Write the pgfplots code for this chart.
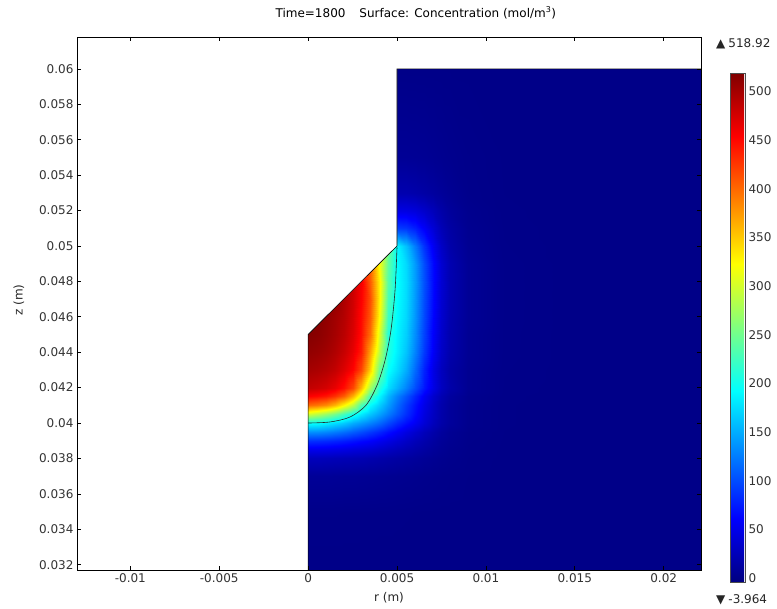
\documentclass[border=0pt]{standalone}
\usepackage{pgfplots}
\pgfplotsset{compat=1.18}
\usepackage{pgfplotstable}
\usepackage{fontspec}
\setmainfont{DejaVu Sans}
\newcommand{\lblfont}{\fontsize{12}{14}\selectfont}
% concentration field: x = r (m), y = z (m), c = concentration (mol/m^3)
% 21 values of r per row of constant z
\pgfplotstableread{
x y c
0 0.0317 0
0.0005 0.0317 0
0.001 0.0317 0
0.0015 0.0317 0
0.002 0.0317 0
0.0025 0.0317 0
0.003 0.0317 0
0.0035 0.0317 0
0.004 0.0317 0
0.0045 0.0317 0
0.005 0.0317 0
0.0055 0.0317 0
0.006 0.0317 0
0.0065 0.0317 0
0.007 0.0317 0
0.0075 0.0317 0
0.008 0.0317 0
0.009 0.0317 0
0.011 0.0317 0
0.015 0.0317 0
0.0221 0.0317 0
0 0.035 1
0.0005 0.035 1
0.001 0.035 1
0.0015 0.035 1
0.002 0.035 0.9
0.0025 0.035 0.9
0.003 0.035 0.8
0.0035 0.035 0.8
0.004 0.035 0.7
0.0045 0.035 0.7
0.005 0.035 0.6
0.0055 0.035 0.5
0.006 0.035 0.4
0.0065 0.035 0.3
0.007 0.035 0.3
0.0075 0.035 0.2
0.008 0.035 0.2
0.009 0.035 0.1
0.011 0.035 0
0.015 0.035 0
0.0221 0.035 0
0 0.037 8
0.0005 0.037 8
0.001 0.037 8
0.0015 0.037 7.5
0.002 0.037 7
0.0025 0.037 7
0.003 0.037 6.5
0.0035 0.037 6
0.004 0.037 5.5
0.0045 0.037 5
0.005 0.037 4.5
0.0055 0.037 4
0.006 0.037 3.3
0.0065 0.037 2.6
0.007 0.037 2
0.0075 0.037 1.5
0.008 0.037 1
0.009 0.037 0.4
0.011 0.037 0.1
0.015 0.037 0
0.0221 0.037 0
0 0.038 27
0.0005 0.038 27
0.001 0.038 26
0.0015 0.038 25
0.002 0.038 24
0.0025 0.038 23
0.003 0.038 22
0.0035 0.038 20
0.004 0.038 18
0.0045 0.038 16
0.005 0.038 14
0.0055 0.038 12
0.006 0.038 10
0.0065 0.038 7.5
0.007 0.038 5.5
0.0075 0.038 3.8
0.008 0.038 2.5
0.009 0.038 0.9
0.011 0.038 0.2
0.015 0.038 0
0.0221 0.038 0
0 0.0385 50
0.0005 0.0385 50
0.001 0.0385 49
0.0015 0.0385 47
0.002 0.0385 45
0.0025 0.0385 42
0.003 0.0385 40
0.0035 0.0385 37
0.004 0.0385 33
0.0045 0.0385 29
0.005 0.0385 25
0.0055 0.0385 21
0.006 0.0385 17
0.0065 0.0385 13
0.007 0.0385 9
0.0075 0.0385 6
0.008 0.0385 3.5
0.009 0.0385 1.2
0.011 0.0385 0.2
0.015 0.0385 0
0.0221 0.0385 0
0 0.039 85
0.0005 0.039 84
0.001 0.039 82
0.0015 0.039 79
0.002 0.039 75
0.0025 0.039 70
0.003 0.039 65
0.0035 0.039 60
0.004 0.039 53
0.0045 0.039 46
0.005 0.039 39
0.0055 0.039 32
0.006 0.039 25
0.0065 0.039 19
0.007 0.039 13
0.0075 0.039 8
0.008 0.039 5
0.009 0.039 1.6
0.011 0.039 0.3
0.015 0.039 0
0.0221 0.039 0
0 0.0395 135
0.0005 0.0395 134
0.001 0.0395 130
0.0015 0.0395 124
0.002 0.0395 117
0.0025 0.0395 108
0.003 0.0395 100
0.0035 0.0395 90
0.004 0.0395 80
0.0045 0.0395 68
0.005 0.0395 57
0.0055 0.0395 46
0.006 0.0395 36
0.0065 0.0395 26
0.007 0.0395 18
0.0075 0.0395 11
0.008 0.0395 6
0.009 0.0395 2
0.011 0.0395 0.4
0.015 0.0395 0
0.0221 0.0395 0
0 0.04 195
0.0005 0.04 193
0.001 0.04 185
0.0015 0.04 175
0.002 0.04 165
0.0025 0.04 150
0.003 0.04 140
0.0035 0.04 128
0.004 0.04 115
0.0045 0.04 98
0.005 0.04 82
0.0055 0.04 68
0.006 0.04 55
0.0065 0.04 40
0.007 0.04 27
0.0075 0.04 17
0.008 0.04 10
0.009 0.04 3
0.011 0.04 0.5
0.015 0.04 0
0.0221 0.04 0
0 0.0405 300
0.0005 0.0405 288
0.001 0.0405 272
0.0015 0.0405 252
0.002 0.0405 226
0.0025 0.0405 202
0.003 0.0405 183
0.0035 0.0405 163
0.004 0.0405 145
0.0045 0.0405 125
0.005 0.0405 105
0.0055 0.0405 85
0.006 0.0405 65
0.0065 0.0405 45
0.007 0.0405 30
0.0075 0.0405 18
0.008 0.0405 10
0.009 0.0405 3
0.011 0.0405 0.5
0.015 0.0405 0
0.0221 0.0405 0
0 0.041 400
0.0005 0.041 393
0.001 0.041 382
0.0015 0.041 360
0.002 0.041 326
0.0025 0.041 288
0.003 0.041 232
0.0035 0.041 192
0.004 0.041 168
0.0045 0.041 142
0.005 0.041 116
0.0055 0.041 92
0.006 0.041 70
0.0065 0.041 49
0.007 0.041 32
0.0075 0.041 19
0.008 0.041 10
0.009 0.041 3
0.011 0.041 0.5
0.015 0.041 0
0.0221 0.041 0
0 0.0415 455
0.0005 0.0415 450
0.001 0.0415 443
0.0015 0.0415 428
0.002 0.0415 405
0.0025 0.0415 362
0.003 0.0415 305
0.0035 0.0415 228
0.004 0.0415 190
0.0045 0.0415 155
0.005 0.0415 128
0.0055 0.0415 105
0.006 0.0415 80
0.0065 0.0415 56
0.007 0.0415 36
0.0075 0.0415 22
0.008 0.0415 12
0.009 0.0415 3.5
0.011 0.0415 0.6
0.015 0.0415 0
0.0221 0.0415 0
0 0.042 485
0.0005 0.042 481
0.001 0.042 475
0.0015 0.042 464
0.002 0.042 446
0.0025 0.042 416
0.003 0.042 358
0.0035 0.042 275
0.004 0.042 212
0.0045 0.042 175
0.005 0.042 152
0.0055 0.042 128
0.006 0.042 100
0.0065 0.042 72
0.007 0.042 48
0.0075 0.042 29
0.008 0.042 17
0.009 0.042 5
0.011 0.042 0.8
0.015 0.042 0
0.0221 0.042 0
0 0.043 500
0.0005 0.043 497
0.001 0.043 492
0.0015 0.043 484
0.002 0.043 470
0.0025 0.043 452
0.003 0.043 418
0.0035 0.043 345
0.004 0.043 250
0.0045 0.043 195
0.005 0.043 174
0.0055 0.043 150
0.006 0.043 115
0.0065 0.043 78
0.007 0.043 48
0.0075 0.043 28
0.008 0.043 15
0.009 0.043 5
0.011 0.043 1
0.015 0.043 0
0.0221 0.043 0
0 0.044 510
0.0005 0.044 507
0.001 0.044 502
0.0015 0.044 494
0.002 0.044 482
0.0025 0.044 465
0.003 0.044 440
0.0035 0.044 370
0.004 0.044 290
0.0045 0.044 208
0.005 0.044 184
0.0055 0.044 162
0.006 0.044 128
0.0065 0.044 90
0.007 0.044 57
0.0075 0.044 33
0.008 0.044 18
0.009 0.044 6
0.011 0.044 1.2
0.015 0.044 0
0.0221 0.044 0
0 0.045 517
0.0005 0.045 514
0.001 0.045 508
0.0015 0.045 500
0.002 0.045 489
0.0025 0.045 472
0.003 0.045 447
0.0035 0.045 398
0.004 0.045 310
0.0045 0.045 212
0.005 0.045 187
0.0055 0.045 168
0.006 0.045 134
0.0065 0.045 95
0.007 0.045 60
0.0075 0.045 35
0.008 0.045 19
0.009 0.045 6
0.011 0.045 1.2
0.015 0.045 0
0.0221 0.045 0
0 0.046 518
0.0005 0.046 516
0.001 0.046 510
0.0015 0.046 502
0.002 0.046 492
0.0025 0.046 475
0.003 0.046 450
0.0035 0.046 408
0.004 0.046 325
0.0045 0.046 222
0.005 0.046 190
0.0055 0.046 172
0.006 0.046 138
0.0065 0.046 98
0.007 0.046 63
0.0075 0.046 37
0.008 0.046 20
0.009 0.046 7
0.011 0.046 1.3
0.015 0.046 0
0.0221 0.046 0
0 0.047 518
0.0005 0.047 518
0.001 0.047 516
0.0015 0.047 508
0.002 0.047 495
0.0025 0.047 478
0.003 0.047 455
0.0035 0.047 414
0.004 0.047 332
0.0045 0.047 230
0.005 0.047 192
0.0055 0.047 174
0.006 0.047 140
0.0065 0.047 100
0.007 0.047 65
0.0075 0.047 38
0.008 0.047 21
0.009 0.047 7
0.011 0.047 1.3
0.015 0.047 0
0.0221 0.047 0
0 0.048 515
0.0005 0.048 515
0.001 0.048 512
0.0015 0.048 505
0.002 0.048 495
0.0025 0.048 480
0.003 0.048 458
0.0035 0.048 407
0.004 0.048 332
0.0045 0.048 237
0.005 0.048 193
0.0055 0.048 175
0.006 0.048 142
0.0065 0.048 102
0.007 0.048 66
0.0075 0.048 39
0.008 0.048 21
0.009 0.048 7
0.011 0.048 1.3
0.015 0.048 0
0.0221 0.048 0
0 0.049 510
0.0005 0.049 510
0.001 0.049 507
0.0015 0.049 500
0.002 0.049 490
0.0025 0.049 475
0.003 0.049 455
0.0035 0.049 402
0.004 0.049 322
0.0045 0.049 242
0.005 0.049 192
0.0055 0.049 173
0.006 0.049 140
0.0065 0.049 100
0.007 0.049 65
0.0075 0.049 38
0.008 0.049 21
0.009 0.049 7
0.011 0.049 1.3
0.015 0.049 0
0.0221 0.049 0
0 0.05 500
0.0005 0.05 500
0.001 0.05 498
0.0015 0.05 492
0.002 0.05 485
0.0025 0.05 470
0.003 0.05 450
0.0035 0.05 402
0.004 0.05 322
0.0045 0.05 247
0.005 0.05 187
0.0055 0.05 160
0.006 0.05 124
0.0065 0.05 86
0.007 0.05 55
0.0075 0.05 32
0.008 0.05 17
0.009 0.05 5.5
0.011 0.05 1
0.015 0.05 0
0.0221 0.05 0
0 0.051 92
0.0005 0.051 92
0.001 0.051 92
0.0015 0.051 92
0.002 0.051 92
0.0025 0.051 92
0.003 0.051 92
0.0035 0.051 92
0.004 0.051 92
0.0045 0.051 92
0.005 0.051 92
0.0055 0.051 88
0.006 0.051 76
0.0065 0.051 58
0.007 0.051 40
0.0075 0.051 24
0.008 0.051 14
0.009 0.051 4.5
0.011 0.051 0.8
0.015 0.051 0
0.0221 0.051 0
0 0.052 48
0.0005 0.052 48
0.001 0.052 48
0.0015 0.052 48
0.002 0.052 48
0.0025 0.052 48
0.003 0.052 48
0.0035 0.052 48
0.004 0.052 48
0.0045 0.052 48
0.005 0.052 48
0.0055 0.052 47
0.006 0.052 43
0.0065 0.052 35
0.007 0.052 26
0.0075 0.052 17
0.008 0.052 10
0.009 0.052 3.5
0.011 0.052 0.6
0.015 0.052 0
0.0221 0.052 0
0 0.053 20
0.0005 0.053 20
0.001 0.053 20
0.0015 0.053 20
0.002 0.053 20
0.0025 0.053 20
0.003 0.053 20
0.0035 0.053 20
0.004 0.053 20
0.0045 0.053 20
0.005 0.053 20
0.0055 0.053 20
0.006 0.053 18
0.0065 0.053 15
0.007 0.053 12
0.0075 0.053 9
0.008 0.053 6
0.009 0.053 2
0.011 0.053 0.4
0.015 0.053 0
0.0221 0.053 0
0 0.055 7
0.0005 0.055 7
0.001 0.055 7
0.0015 0.055 7
0.002 0.055 7
0.0025 0.055 7
0.003 0.055 7
0.0035 0.055 7
0.004 0.055 7
0.0045 0.055 7
0.005 0.055 7
0.0055 0.055 7
0.006 0.055 6.5
0.0065 0.055 6
0.007 0.055 5
0.0075 0.055 4
0.008 0.055 3
0.009 0.055 1.5
0.011 0.055 0.3
0.015 0.055 0
0.0221 0.055 0
0 0.06 0.5
0.0005 0.06 0.5
0.001 0.06 0.5
0.0015 0.06 0.5
0.002 0.06 0.5
0.0025 0.06 0.5
0.003 0.06 0.5
0.0035 0.06 0.5
0.004 0.06 0.5
0.0045 0.06 0.5
0.005 0.06 0.5
0.0055 0.06 0.5
0.006 0.06 0.5
0.0065 0.06 0.5
0.007 0.06 0.5
0.0075 0.06 0.4
0.008 0.06 0.3
0.009 0.06 0.2
0.011 0.06 0.1
0.015 0.06 0
0.0221 0.06 0
}\conc
\begin{document}
\begin{tikzpicture}[x=1pt,y=1pt]
\path[use as bounding box] (0,0) rectangle (777,609);
\begin{axis}[
  at={(77pt,39pt)}, anchor=south west,
  scale only axis, width=624pt, height=533pt,
  xmin=-0.013, xmax=0.0221, ymin=0.0317, ymax=0.0618,
  xtick={-0.01,-0.005,0,0.005,0.01,0.015,0.02},
  ytick={0.032,0.034,0.036,0.038,0.04,0.042,0.044,0.046,0.048,0.05,0.052,0.054,0.056,0.058,0.06},
  scaled ticks=false,
  /pgf/number format/fixed, /pgf/number format/precision=3,
  /pgf/number format/assume math mode=true,
  tick align=inside, major tick length=4pt,
  tick style={black, line width=0.6pt},
  tick label style={font=\lblfont, color=black!80},
  label style={font=\lblfont, color=black!85},
  axis line style={black, line width=0.7pt},
  xlabel={r (m)}, ylabel={z (m)},
  xlabel style={at={(axis description cs:0.5,-0.0525)}, anchor=center},
  ylabel style={at={(axis description cs:-0.093,0.5066)}, anchor=center},
  title={Time=1800\hspace{14pt}Surface: Concentration (mol/m\textsuperscript{3})},
  title style={at={(axis description cs:0.543,1.034)}, anchor=center, font=\lblfont},
  colormap/jet,
  point meta min=-3.964, point meta max=518.92,
  colorbar,
  colorbar shift/.style={},
  colorbar style={
    at={(parent axis.south east)}, anchor=south west,
    xshift=29pt, yshift=-12pt,
    scale only axis, width=15pt, height=509pt,
    ytick={0,50,100,150,200,250,300,350,400,450,500},
    major tick length=0pt,
    yticklabel style={font=\lblfont, color=black!80},
    /pgf/number format/assume math mode=true,
    axis line style={black!70, line width=0.5pt},
  },
  axis on top,
  clip=true,
]
\addplot[surf, shader=interp, mesh/cols=21, point meta=explicit]
  table[x=x, y=y, meta=c] {\conc};
% region outside the domain (above the sloped edge)
\addplot[fill=white, draw=none] coordinates {(0,0.045) (0.005,0.05) (0.005,0.0625) (0,0.0625)} -- cycle;
% domain edges
\addplot[black, line width=0.6pt] coordinates {(0,0.0317) (0,0.045) (0.005,0.05) (0.005,0.06) (0.0221,0.06)};
% interface curve
\addplot[black!85, line width=0.6pt, smooth] coordinates {(0.005,0.04992) (0.00489,0.0475) (0.00466,0.04524) (0.00433,0.04355) (0.00388,0.04214) (0.00326,0.04101) (0.00236,0.04034) (0.00124,0.04006) (0,0.0400)};
\end{axis}
\node[anchor=west, font=\lblfont, text=black!85, inner sep=0pt] at (716,565) {▲\hspace{3pt}518.92};
\node[anchor=west, font=\lblfont, text=black!85, inner sep=0pt] at (716,9) {▼\hspace{3pt}-3.964};
\end{tikzpicture}
\end{document}
